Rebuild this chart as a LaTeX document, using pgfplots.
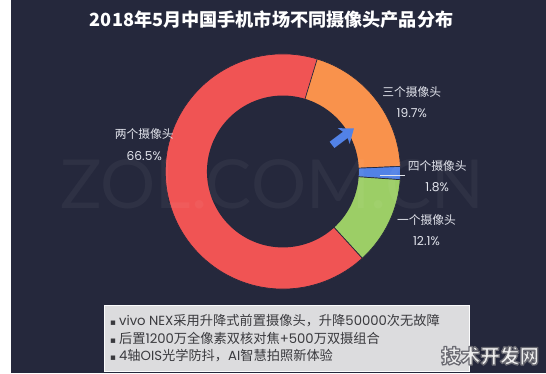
\documentclass[border=0pt]{standalone}
\usepackage{pgfplots}
\pgfplotsset{compat=1.18}
\usepackage{pgfplotstable}
\usepackage{fontspec}
\setmainfont{Noto Sans CJK SC}
\newfontfamily\cjk{Noto Sans CJK SC}
\newfontfamily\lat{Poppins}
\newfontfamily\dv{DejaVu Sans}
\newfontfamily\wm{Lato}
\definecolor{bg}{RGB}{37,40,60}
\definecolor{cred}{RGB}{240,84,84}
\definecolor{corange}{RGB}{249,146,76}
\definecolor{cblue}{RGB}{82,130,230}
\definecolor{cgreen}{RGB}{156,206,102}
\definecolor{lbl}{RGB}{226,228,236}
\definecolor{boxfill}{RGB}{220,220,222}
\definecolor{boxtext}{RGB}{58,58,62}
\begin{document}
% share of models by number of cameras, May 2018 (China)
\pgfplotstableread{
idx value
1 19.7
2 1.8
3 12.1
4 66.5
}\camdata
\pgfplotstablegetelem{0}{value}\of\camdata \let\vA\pgfplotsretval
\pgfplotstablegetelem{1}{value}\of\camdata \let\vB\pgfplotsretval
\pgfplotstablegetelem{2}{value}\of\camdata \let\vC\pgfplotsretval
\pgfplotstablegetelem{3}{value}\of\camdata \let\vD\pgfplotsretval
\pgfmathsetmacro\aZero{73.4}
\pgfmathsetmacro\aOne{\aZero-3.6*\vA}
\pgfmathsetmacro\aTwo{\aOne-3.6*\vB}
\pgfmathsetmacro\aThree{\aTwo-3.6*\vC}
\pgfmathsetmacro\aFour{\aThree-3.6*\vD}
\begin{tikzpicture}[x=1pt,y=1pt]
\path[use as bounding box] (0,0) rectangle (546,381);
\fill[bg] (0,0) rectangle (546,381);
% title
\node[font=\cjk\bfseries\fontsize{18.5}{20}\selectfont, text=white] at (266,361) {2018年5月中国手机市场不同摄像头产品分布};
\begin{axis}[at={(277.5,206)}, anchor=center, width=240pt, height=240pt, scale only axis,
  xmin=-120, xmax=120, ymin=-120, ymax=120, axis lines=none, clip=false]
\addplot[no markers, fill=corange, draw=bg, line width=0.7pt, domain=\aOne:\aZero, samples=60, variable=\t] ({120*cos(\t)},{120*sin(\t)}) -- (axis cs:0,0) -- cycle;
\addplot[no markers, fill=cblue, draw=bg, line width=0.7pt, domain=\aTwo:\aOne, samples=10, variable=\t] ({120*cos(\t)},{120*sin(\t)}) -- (axis cs:0,0) -- cycle;
\addplot[no markers, fill=cgreen, draw=bg, line width=0.7pt, domain=\aThree:\aTwo, samples=40, variable=\t] ({120*cos(\t)},{120*sin(\t)}) -- (axis cs:0,0) -- cycle;
\addplot[no markers, fill=cred, draw=bg, line width=0.7pt, domain=\aFour:\aThree, samples=150, variable=\t] ({120*cos(\t)},{120*sin(\t)}) -- (axis cs:0,0) -- cycle;
\addplot[no markers, fill=bg, draw=none, domain=0:360, samples=150, variable=\t] ({77.5*cos(\t)},{77.5*sin(\t)}) -- cycle;
\end{axis}
% background watermark
\node[font=\wm\fontsize{69}{70}\selectfont, text=white, opacity=0.045, inner sep=0pt, text height=46pt, text depth=0pt, anchor=south west, xscale=1.02] at (50,168) {ZOL.COM.CN};
% arrow decoration
\fill[cblue, shift={(350,250)}, rotate=37] (0,0) -- (-13,10) -- (-11,4) -- (-28,4) -- (-28,-4) -- (-11,-4) -- (-13,-10) -- cycle;
% labels
\begin{scope}[every node/.style={text=lbl, inner sep=0pt}]
\node[font=\cjk\fontsize{12}{13}\selectfont] at (136,244) {两个摄像头};
\node[font=\lat\fontsize{12.5}{13}\selectfont] at (136,222) {66.5\%};
\node[font=\cjk\fontsize{12}{13}\selectfont] at (409,287) {三个摄像头};
\node[font=\lat\fontsize{12.5}{13}\selectfont] at (409,266) {19.7\%};
\node[font=\cjk\fontsize{12}{13}\selectfont] at (435,212) {四个摄像头};
\node[font=\lat\fontsize{12.5}{13}\selectfont] at (435,190) {1.8\%};
\node[font=\cjk\fontsize{12}{13}\selectfont] at (424,156) {一个摄像头};
\node[font=\lat\fontsize{12.5}{13}\selectfont] at (424,135) {12.1\%};
\end{scope}
\draw[lbl, line width=0.5pt] (377,202) -- (402,202);
% text box
\fill[boxfill, draw=white!90!boxfill, line width=1pt] (95,2) rectangle (468,69);
\begin{scope}[every node/.style={anchor=west, text=boxtext, inner sep=0pt, font=\cjk\fontsize{13.5}{15}\selectfont}]
\node at (101,54) {{\dv\fontsize{9}{9}\selectfont ▪} {\lat vivo NEX}采用升降式前置摄像头，升降{\lat 50000}次无故障};
\node at (101,36) {{\dv\fontsize{9}{9}\selectfont ▪} 后置{\lat 1200}万全像素双核对焦{\lat +500}万双摄组合};
\node at (101,18) {{\dv\fontsize{9}{9}\selectfont ▪} {\lat 4}轴{\lat OIS}光学防抖，{\lat AI}智慧拍照新体验};
\end{scope}
% corner watermark: light fill with grey stroke
\node[font=\cjk\bfseries\fontsize{20}{22}\selectfont, text=white!86!gray] at (489,18)
  {\special{pdf:literal direct 0.42 0.42 0.45 RG 1.3 w 1 j 2 Tr}技术开发网\special{pdf:literal direct 0 Tr}};
\end{tikzpicture}
\end{document}
